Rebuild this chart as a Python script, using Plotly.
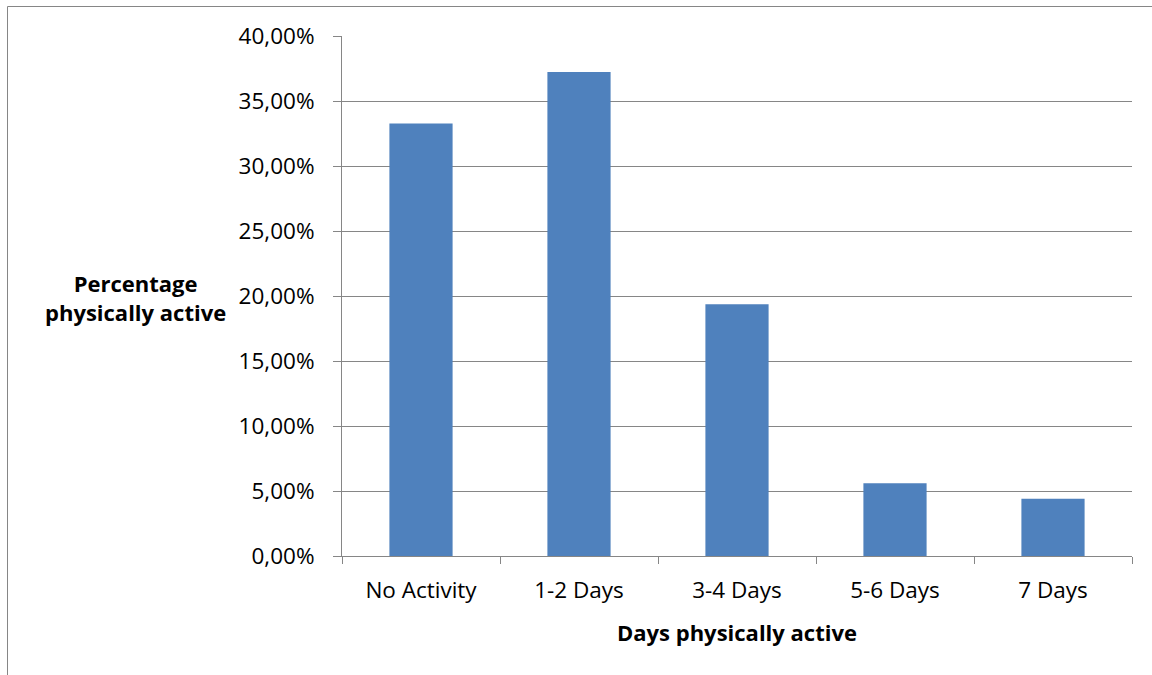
import plotly.graph_objects as go

# Share of respondents by number of days physically active per week
categories = ["No Activity", "1-2 Days", "3-4 Days", "5-6 Days", "7 Days"]
share_active = [0.3326, 0.3723, 0.1936, 0.0559, 0.0441]

y_title_lines = ["Percentage", "physically active"]
x_title = "Days physically active"

BAR_COLOR = "#4F81BD"
GRID_COLOR = "#868686"
FONT = "Open Sans"
TICK_SIZE = 22.5
TITLE_SIZE = 22

W, H = 1152, 675
L, R, T, B = 342, 20, 36, 119
plot_w = W - L - R
plot_h = H - T - B


def px_to_paper_x(px):
    return (px - L) / plot_w


def px_to_paper_y(py):
    return (H - B - py) / plot_h


fig = go.Figure(
    go.Bar(
        x=categories,
        y=share_active,
        marker=dict(color=BAR_COLOR, line=dict(width=0)),
        hovertemplate="%{x}: %{y:.2%}<extra></extra>",
    )
)

fig.update_layout(
    width=W,
    height=H,
    margin=dict(l=L, r=R, t=T, b=B),
    paper_bgcolor="white",
    plot_bgcolor="white",
    separators=",.",
    bargap=0.6,
    showlegend=False,
    font=dict(family=FONT, size=TICK_SIZE, color="black"),
)

fig.update_yaxes(
    range=[0, 0.4],
    dtick=0.05,
    tickformat=".2%",
    showgrid=True,
    gridcolor=GRID_COLOR,
    gridwidth=1,
    showline=True,
    linecolor=GRID_COLOR,
    linewidth=1,
    ticks="outside",
    ticklen=8,
    tickcolor=GRID_COLOR,
    ticklabelstandoff=14,
    zeroline=False,
    tickfont=dict(family=FONT, size=TICK_SIZE, color="black"),
)

fig.update_xaxes(
    showline=True,
    linecolor=GRID_COLOR,
    linewidth=1,
    ticks="outside",
    tickson="boundaries",
    ticklen=7,
    tickcolor=GRID_COLOR,
    ticklabelstandoff=14,
    tickfont=dict(family=FONT, size=TICK_SIZE, color="black"),
)

# Axis titles placed as free text (the y title reads horizontally)
fig.add_annotation(
    text="<br>".join(y_title_lines),
    xref="paper", yref="paper",
    x=px_to_paper_x(135), y=px_to_paper_y(297),
    xanchor="center", yanchor="middle",
    showarrow=False,
    font=dict(family=FONT, size=TITLE_SIZE, color="black", weight="bold"),
)
fig.add_annotation(
    text=x_title,
    xref="paper", yref="paper",
    x=px_to_paper_x(737), y=px_to_paper_y(632),
    xanchor="center", yanchor="middle",
    showarrow=False,
    font=dict(family=FONT, size=TITLE_SIZE, color="black", weight="bold"),
)

# Outer frame (left and top edges)
frame = dict(color=GRID_COLOR, width=1)
fig.add_shape(type="line", xref="paper", yref="paper",
              x0=px_to_paper_x(7.5), y0=px_to_paper_y(6.5),
              x1=px_to_paper_x(7.5), y1=px_to_paper_y(675),
              line=frame)
fig.add_shape(type="line", xref="paper", yref="paper",
              x0=px_to_paper_x(7.5), y0=px_to_paper_y(6.5),
              x1=px_to_paper_x(1152), y1=px_to_paper_y(6.5),
              line=frame)

fig.write_html("out.html")
